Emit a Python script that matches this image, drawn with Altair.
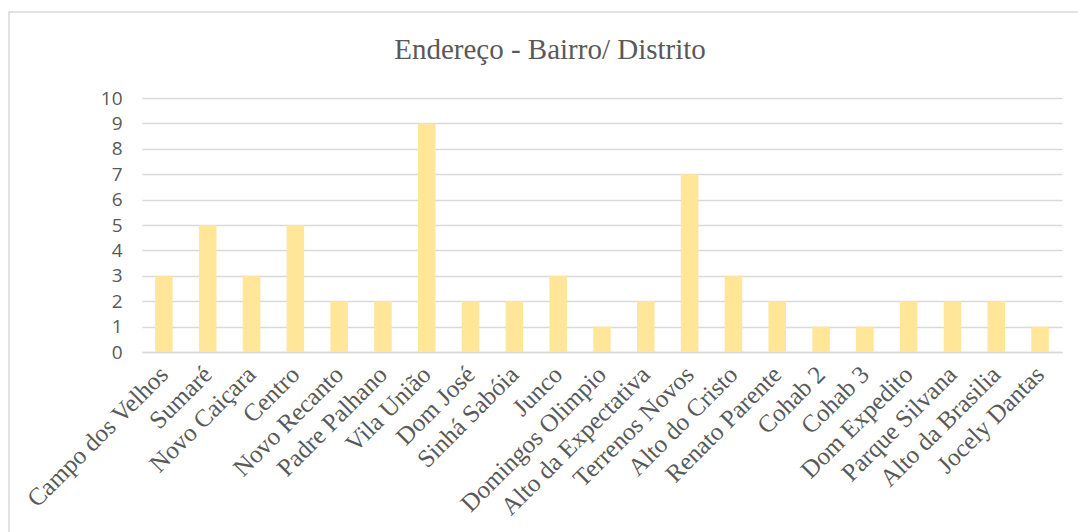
import altair as alt
import pandas as pd

titulo = "Endereço - Bairro/ Distrito"
bairros = ["Campo dos Velhos", "Sumaré", "Novo Caiçara", "Centro", "Novo Recanto",
           "Padre Palhano", "Vila União", "Dom José", "Sinhá Sabóia", "Junco",
           "Domingos Olimpio", "Alto da Expectativa", "Terrenos Novos", "Alto do Cristo",
           "Renato Parente", "Cohab 2", "Cohab 3", "Dom Expedito", "Parque Silvana",
           "Alto da Brasilia", "Jocely Dantas"]
valores = [3, 5, 3, 5, 2, 2, 9, 2, 2, 3, 1, 2, 7, 3, 2, 1, 1, 2, 2, 2, 1]
y_ticks = list(range(0, 11))

df = pd.DataFrame({"bairro": bairros, "valor": valores})

bars = alt.Chart(df).mark_bar(color="#FFE699").encode(
    x=alt.X("bairro:N", sort=bairros, title=None,
            scale=alt.Scale(paddingInner=0.6, paddingOuter=0.3),
            axis=alt.Axis(labelAngle=-45, labelFont="Liberation Serif", labelFontSize=25,
                          labelColor="#595959", ticks=False, domain=True,
                          domainColor="#D9D9D9", domainWidth=1.5, labelPadding=18,
                          labelAlign="right", labelBaseline="middle", labelOverlap=False,
                          labelLimit=500)),
    y=alt.Y("valor:Q", title=None,
            scale=alt.Scale(domain=[0, 10], nice=False),
            axis=alt.Axis(values=y_ticks, labelFont="Open Sans", labelFontSize=19,
                          labelColor="#595959", ticks=False, domain=False,
                          gridColor="#D9D9D9", gridWidth=1.5, labelPadding=20)),
)

title_df = pd.DataFrame({"t": [titulo]})
title_mark = alt.Chart(title_df).mark_text(
    font="Liberation Serif", fontSize=29, color="#595959", align="center", baseline="middle"
).encode(text="t:N", x=alt.value(408), y=alt.value(-48))

border = alt.Chart(title_df).mark_rect(fill=None, stroke="#D9D9D9", strokeWidth=1.5).encode(
    x=alt.value(-133), x2=alt.value(960), y=alt.value(-86), y2=alt.value(500)
)

chart = alt.layer(border, bars, title_mark).properties(
    width=920, height=254,
    autosize=alt.AutoSizeParams(type="none"),
    padding={"left": 142, "top": 98, "right": 16, "bottom": 180},
    background="white",
).configure_view(stroke=None)

chart.save("out.html", embed_options={"renderer": "svg", "actions": False})
